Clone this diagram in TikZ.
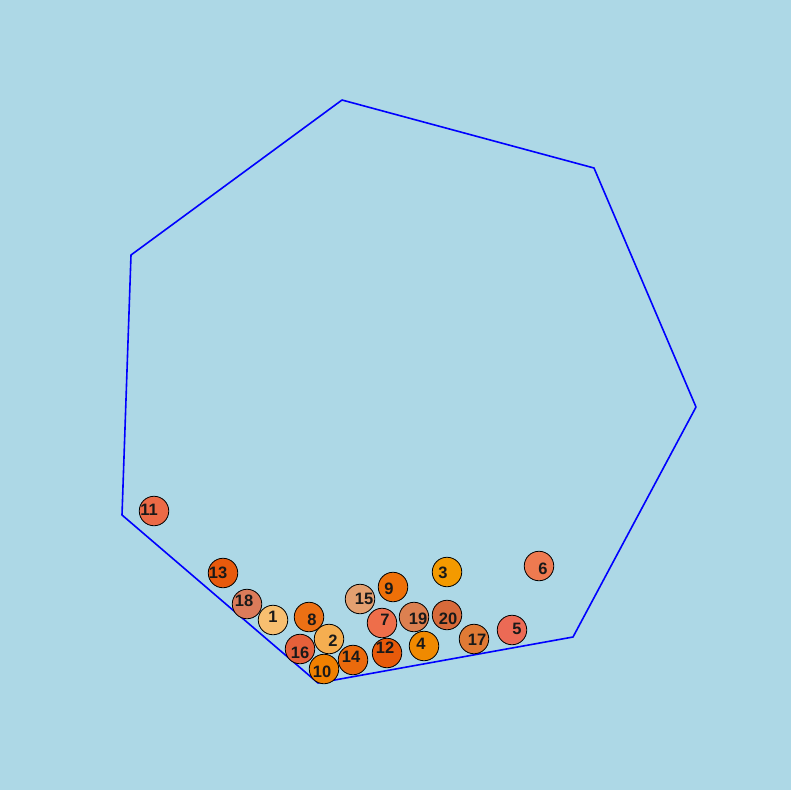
\documentclass[tikz,border=0pt]{standalone}
\usepackage{fontspec}
\setmainfont{Liberation Sans}
\definecolor{bg}{HTML}{ADD8E6}
\newcommand\myball[6]{%
  \node[ball,fill={rgb,255:#6}] (n#1) at (#2,#3) {};
  \node[lab] (t#1) at ({#2+#4},{#3+#5}) {#1};}
\begin{document}
\begin{tikzpicture}[x=1pt,y=-1pt,
  ball/.style={circle,draw=black,line width=0.8pt,minimum size=29.5pt,inner sep=0pt},
  lab/.style={inner sep=0pt,font=\fontsize{16.5}{16.5}\selectfont\bfseries,text=black!90},
  hull/.style={draw=blue,line width=1.6pt,line join=round}]
\fill[bg] (0,0) rectangle (791,790);
\useasboundingbox (0,0) rectangle (791,790);
\coordinate (v1) at (342,100);
\coordinate (v2) at (594,168);
\coordinate (v3) at (696,407);
\coordinate (v4) at (573,637);
\coordinate (v5) at (318,683);
\coordinate (v6) at (122,515);
\coordinate (v7) at (131,255);
\draw[hull] (v1) -- (v2) -- (v3) -- (v4) -- (v5) -- (v6) -- (v7) -- cycle;
\myball{11}{154}{511}{-5}{-1}{red,236;green,106;blue,70}
\myball{13}{223}{573}{-5}{0}{red,232;green,90;blue,12}
\myball{18}{247}{604}{-3}{-3}{red,219;green,123;blue,90}
\myball{1}{273}{620}{0}{-3}{red,248;green,191;blue,112}
\myball{8}{309}{617}{3}{3}{red,236;green,112;blue,20}
\myball{16}{300}{649}{0}{4}{red,229;green,96;blue,58}
\myball{2}{329}{639}{4}{2}{red,245;green,174;blue,80}
\myball{10}{324}{669}{-2}{3}{red,240;green,128;blue,0}
\myball{14}{353}{660}{-2}{-3}{red,235;green,106;blue,12}
\myball{15}{360}{599}{4}{0}{red,228;green,160;blue,112}
\myball{9}{393}{587}{-4}{2}{red,238;green,112;blue,8}
\myball{3}{447}{572}{-4}{1}{red,244;green,154;blue,0}
\myball{6}{539}{566}{4}{3}{red,238;green,122;blue,80}
\myball{7}{382}{623}{3}{-3}{red,238;green,110;blue,74}
\myball{19}{414}{617}{4}{2}{red,220;green,128;blue,80}
\myball{20}{447}{615}{1}{4}{red,216;green,106;blue,58}
\myball{12}{387}{653}{-2}{-5}{red,232;green,90;blue,10}
\myball{4}{424}{646}{-3}{-2}{red,240;green,138;blue,0}
\myball{17}{474}{639}{3}{1}{red,224;green,122;blue,53}
\myball{5}{512}{630}{5}{-1}{red,236;green,106;blue,85}
\end{tikzpicture}
\end{document}
